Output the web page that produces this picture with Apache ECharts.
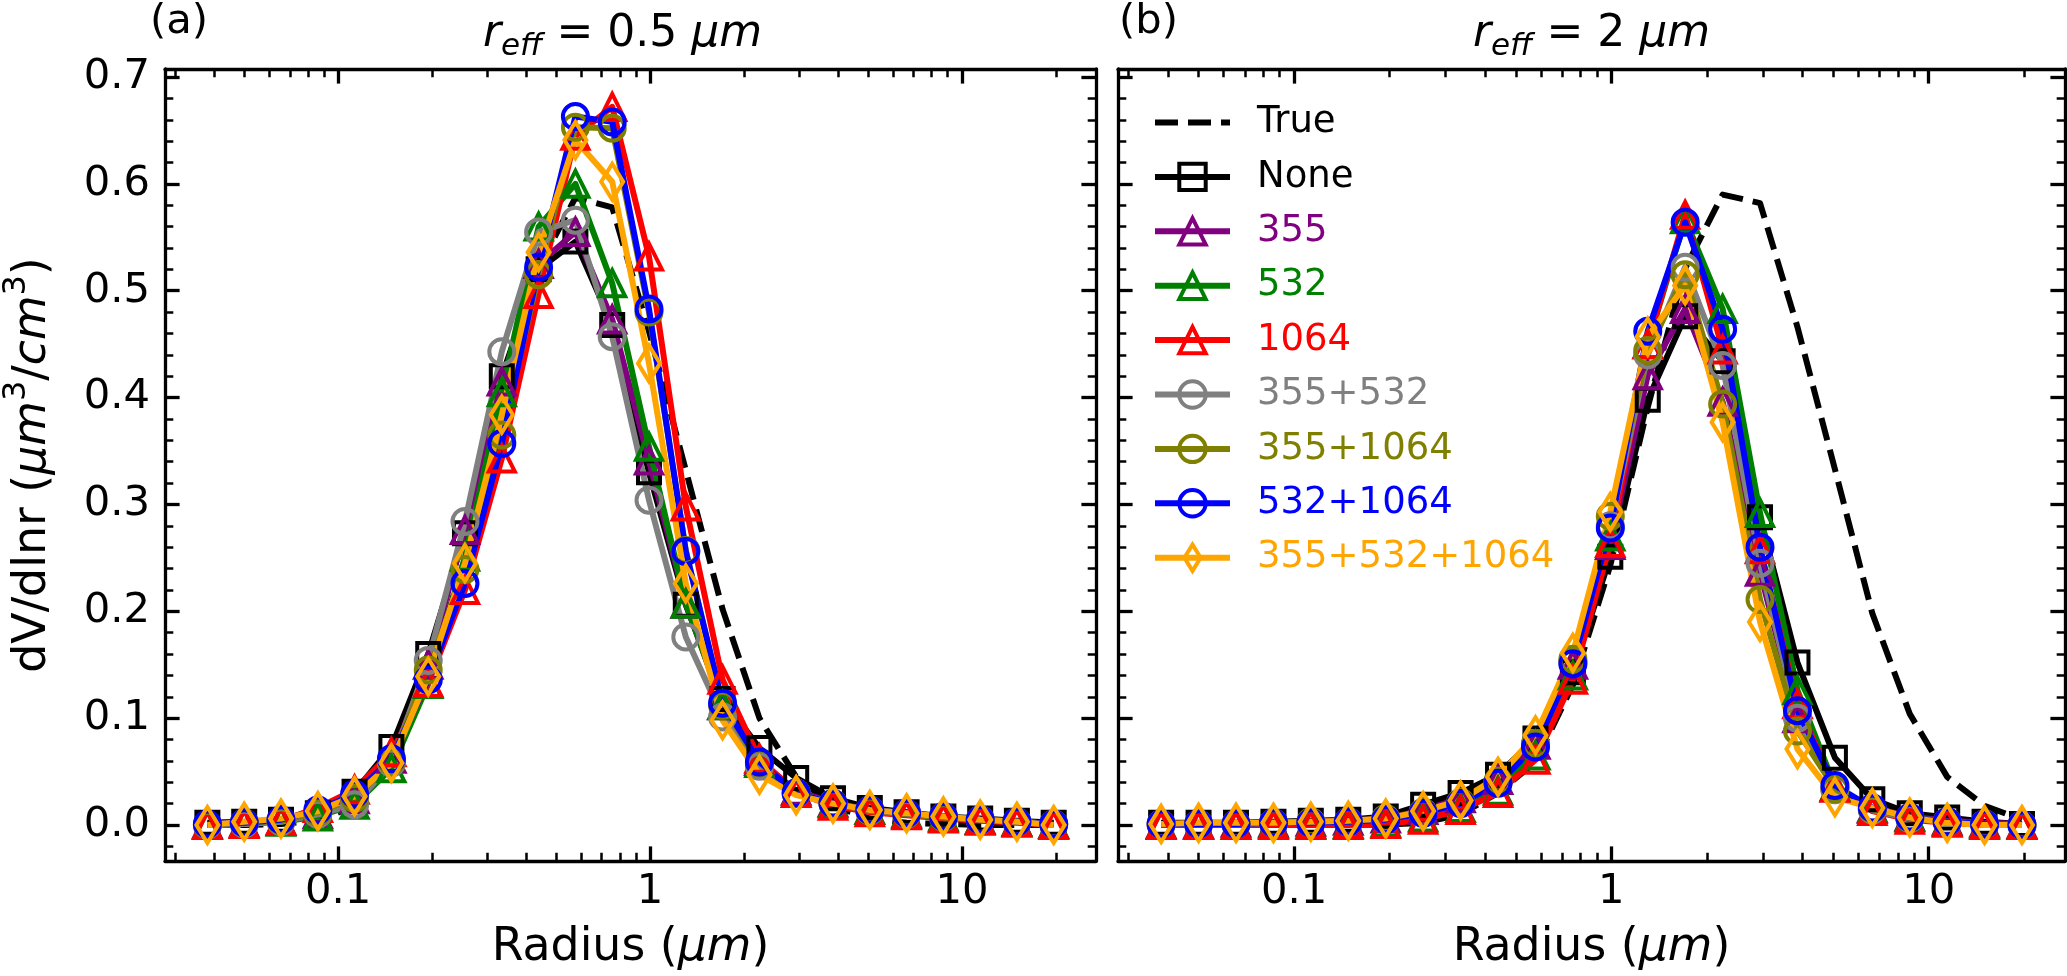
<!DOCTYPE html>
<html><head><meta charset="utf-8">
<script src="https://cdn.jsdelivr.net/npm/echarts@6/dist/echarts.min.js"></script>
<style>html,body{margin:0;padding:0;background:#fff;}#c{width:2067px;height:976px;}</style>
</head><body><div id="c"></div>
<script>
// ---------------- data ----------------
const radius = [0.0381, 0.05, 0.0656, 0.0861, 0.1129, 0.1482, 0.1945, 0.2551, 0.3348, 0.4393, 0.5764, 0.7563,
                0.9923, 1.302, 1.708, 2.242, 2.941, 3.859, 5.064, 6.644, 8.718, 11.44, 15.0, 19.68];
const seriesNames = ['True', 'None', '355', '532', '1064', '355+532', '355+1064', '532+1064', '355+532+1064'];

// panel (a) r_eff = 0.5
const trueA     = [0, 0, 0.001, 0.004, 0.018, 0.058, 0.137, 0.250, 0.392, 0.522, 0.587, 0.578, 0.462, 0.332, 0.202, 0.100, 0.045, 0.018, 0.006, 0.002, 0.001, 0, 0, 0];
const noneA     = [0.002, 0.003, 0.005, 0.011, 0.031, 0.073, 0.160, 0.273, 0.420, 0.520, 0.546, 0.468, 0.330, 0.206, 0.118, 0.072, 0.044, 0.025, 0.016, 0.012, 0.008, 0.006, 0.004, 0.002];
const s355A     = [0.001, 0.002, 0.004, 0.010, 0.024, 0.062, 0.150, 0.276, 0.415, 0.525, 0.555, 0.473, 0.341, 0.207, 0.112, 0.060, 0.032, 0.021, 0.014, 0.010, 0.007, 0.005, 0.003, 0.001];
const s532A     = [0.000, 0.001, 0.003, 0.008, 0.019, 0.053, 0.132, 0.251, 0.405, 0.560, 0.600, 0.507, 0.354, 0.207, 0.112, 0.058, 0.030, 0.020, 0.014, 0.011, 0.008, 0.005, 0.003, 0.001];
const s1064A    = [0.000, 0.001, 0.004, 0.016, 0.033, 0.068, 0.133, 0.220, 0.343, 0.497, 0.645, 0.672, 0.532, 0.298, 0.136, 0.062, 0.030, 0.018, 0.012, 0.009, 0.006, 0.004, 0.002, 0.000];
const s355_532A = [0.000, 0.001, 0.003, 0.010, 0.019, 0.058, 0.154, 0.284, 0.443, 0.555, 0.566, 0.457, 0.304, 0.176, 0.101, 0.055, 0.030, 0.020, 0.014, 0.011, 0.008, 0.005, 0.003, 0.001];
const s355_1064A= [0.000, 0.002, 0.004, 0.012, 0.025, 0.060, 0.145, 0.239, 0.365, 0.515, 0.653, 0.652, 0.480, 0.257, 0.112, 0.058, 0.030, 0.020, 0.013, 0.010, 0.007, 0.005, 0.003, 0.001];
const s532_1064A= [0.001, 0.002, 0.005, 0.014, 0.029, 0.062, 0.136, 0.226, 0.357, 0.522, 0.663, 0.658, 0.483, 0.256, 0.114, 0.059, 0.030, 0.020, 0.014, 0.011, 0.008, 0.005, 0.003, 0.001];
const sAllA     = [0.000, 0.003, 0.006, 0.013, 0.027, 0.058, 0.139, 0.245, 0.384, 0.536, 0.641, 0.602, 0.432, 0.226, 0.098, 0.047, 0.028, 0.020, 0.014, 0.011, 0.008, 0.005, 0.003, 0.000];

// panel (b) r_eff = 2
const trueB     = [0, 0, 0, 0, 0, 0, 0.0005, 0.002, 0.010, 0.030, 0.059, 0.131, 0.243, 0.391, 0.521, 0.590, 0.582, 0.466, 0.333, 0.198, 0.104, 0.045, 0.018, 0.005];
const noneB     = [0.002, 0.002, 0.002, 0.003, 0.004, 0.005, 0.008, 0.019, 0.030, 0.047, 0.081, 0.143, 0.251, 0.398, 0.476, 0.434, 0.288, 0.152, 0.063, 0.024, 0.011, 0.007, 0.003, 0.001];
const s355B     = [0.001, 0.001, 0.002, 0.002, 0.003, 0.004, 0.006, 0.014, 0.025, 0.042, 0.075, 0.150, 0.262, 0.421, 0.483, 0.396, 0.237, 0.100, 0.035, 0.016, 0.008, 0.004, 0.002, 0.001];
const s532B     = [0, 0, 0, 0.001, 0.001, 0.001, 0.002, 0.007, 0.016, 0.032, 0.065, 0.140, 0.270, 0.450, 0.567, 0.483, 0.292, 0.126, 0.036, 0.015, 0.007, 0.003, 0.001, 0];
const s1064B    = [0, 0, 0, 0, 0, 0, 0.001, 0.005, 0.014, 0.030, 0.061, 0.136, 0.264, 0.450, 0.571, 0.445, 0.258, 0.113, 0.035, 0.013, 0.005, 0.002, 0, 0];
const s355_532B = [0.001, 0.001, 0.001, 0.002, 0.002, 0.003, 0.005, 0.011, 0.020, 0.040, 0.075, 0.152, 0.280, 0.440, 0.522, 0.430, 0.245, 0.100, 0.033, 0.014, 0.006, 0.003, 0.001, 0];
const s355_1064B= [0.001, 0.001, 0.001, 0.002, 0.003, 0.003, 0.006, 0.012, 0.021, 0.041, 0.076, 0.155, 0.289, 0.444, 0.515, 0.394, 0.211, 0.088, 0.034, 0.015, 0.007, 0.003, 0.001, 0];
const s532_1064B= [0.001, 0.001, 0.001, 0.002, 0.002, 0.003, 0.005, 0.011, 0.020, 0.039, 0.073, 0.151, 0.278, 0.462, 0.564, 0.464, 0.260, 0.107, 0.037, 0.016, 0.007, 0.003, 0.001, 0];
const sAllB     = [0.001, 0.002, 0.002, 0.002, 0.003, 0.004, 0.006, 0.013, 0.023, 0.045, 0.084, 0.161, 0.293, 0.457, 0.505, 0.377, 0.190, 0.071, 0.026, 0.016, 0.007, 0.002, 0, 0];

const panelA = [trueA, noneA, s355A, s532A, s1064A, s355_532A, s355_1064A, s532_1064A, sAllA];
const panelB = [trueB, noneB, s355B, s532B, s1064B, s355_532B, s355_1064B, s532_1064B, sAllB];

const xTickValues = [0.1, 1, 10];
const xTickLabels = ['0.1', '1', '10'];
const xMinorValues = [0.03,0.04,0.05,0.06,0.07,0.08,0.09,0.2,0.3,0.4,0.5,0.6,0.7,0.8,0.9,2,3,4,5,6,7,8,9,20];
const yTickValues = [0.0, 0.1, 0.2, 0.3, 0.4, 0.5, 0.6, 0.7];
const yTickLabels = ['0.0', '0.1', '0.2', '0.3', '0.4', '0.5', '0.6', '0.7'];
const yMinorValues = [-0.02,0.02,0.04,0.06,0.08,0.12,0.14,0.16,0.18,0.22,0.24,0.26,0.28,0.32,0.34,0.36,0.38,
                      0.42,0.44,0.46,0.48,0.52,0.54,0.56,0.58,0.62,0.64,0.66,0.68];
const titleValues = ['0.5', '2'];
const panelLabels = ['(a)', '(b)'];

// ---------------- style ----------------
const X_MIN = 0.027864, X_MAX = 26.894;
const Y_MIN = -0.0337, Y_MAX = 0.7075;
const LMIN = Math.log10(X_MIN), LMAX = Math.log10(X_MAX);
const FONT = 'DejaVu Sans';
// thin diamond with a square bounding box so the legend keeps it narrow
const THIN_DIAMOND = 'path://M0,-18L11,0L0,18L-11,0Z M-18,-18Z M18,18Z';
const styles = [
  {color: '#000000', symbol: 'none', dash: [23, 10]},
  {color: '#000000', symbol: 'rect', size: 22},
  {color: '#800080', symbol: 'triangle', size: 26},
  {color: '#008000', symbol: 'triangle', size: 26},
  {color: '#ff0000', symbol: 'triangle', size: 26},
  {color: '#808080', symbol: 'circle', size: 25},
  {color: '#808000', symbol: 'circle', size: 25},
  {color: '#0000ff', symbol: 'circle', size: 25},
  {color: '#ffa500', symbol: THIN_DIAMOND, size: 36}
];
const grids = [
  {left: 149, top: 69, width: 947, height: 792},
  {left: 1118, top: 69, width: 947, height: 792}
];
const SPINE = 3.3, MAJ_LEN = 14.6, MIN_LEN = 8.3;

const xAxes = [], yAxes = [];
grids.forEach((g, gi) => {
  xAxes.push({type: 'log', logBase: 10, gridIndex: gi, min: X_MIN, max: X_MAX, show: false});
  xAxes.push({type: 'value', gridIndex: gi, min: LMIN, max: LMAX, position: 'bottom',
    axisLine: {show: true, onZero: false, lineStyle: {color: '#000', width: SPINE}},
    axisTick: {show: true, inside: true, length: MAJ_LEN, lineStyle: {color: '#000', width: SPINE},
               customValues: xTickValues.map(Math.log10)},
    axisLabel: {show: true, customValues: xTickValues.map(Math.log10), margin: 10,
      color: '#000', fontSize: 41.7, fontFamily: FONT,
      formatter: v => { const k = xTickValues.findIndex(t => Math.abs(Math.log10(t) - v) < 1e-6); return k >= 0 ? xTickLabels[k] : ''; }},
    splitLine: {show: false},
    name: '{n|Radius (}{i|μm}{n|)}', nameLocation: 'middle', nameGap: 62,
    nameTextStyle: {rich: {
      n: {fontSize: 45.8, fontFamily: FONT, color: '#000', lineHeight: 50},
      i: {fontSize: 45.8, fontFamily: FONT, fontStyle: 'italic', color: '#000', lineHeight: 50}}}
  });
  xAxes.push({type: 'value', gridIndex: gi, min: LMIN, max: LMAX, position: 'bottom',
    axisLine: {show: false, onZero: false},
    axisTick: {show: true, inside: true, length: MIN_LEN, lineStyle: {color: '#000', width: 2.5},
               customValues: xMinorValues.map(Math.log10)},
    axisLabel: {show: false}, splitLine: {show: false}});
  xAxes.push({type: 'value', gridIndex: gi, min: LMIN, max: LMAX, position: 'top',
    axisLine: {show: true, onZero: false, lineStyle: {color: '#000', width: SPINE}},
    axisTick: {show: true, inside: true, length: MAJ_LEN, lineStyle: {color: '#000', width: SPINE},
               customValues: xTickValues.map(Math.log10)},
    axisLabel: {show: false}, splitLine: {show: false}});
  xAxes.push({type: 'value', gridIndex: gi, min: LMIN, max: LMAX, position: 'top',
    axisLine: {show: false, onZero: false},
    axisTick: {show: true, inside: true, length: MIN_LEN, lineStyle: {color: '#000', width: 2.5},
               customValues: xMinorValues.map(Math.log10)},
    axisLabel: {show: false}, splitLine: {show: false}});

  const yData = {type: 'value', gridIndex: gi, min: Y_MIN, max: Y_MAX, position: 'left',
    axisLine: {show: true, onZero: false, lineStyle: {color: '#000', width: SPINE}},
    axisTick: {show: true, inside: true, length: MAJ_LEN, lineStyle: {color: '#000', width: SPINE},
               customValues: yTickValues},
    axisLabel: {show: gi === 0, customValues: yTickValues, margin: 15, color: '#000', fontSize: 41.7, fontFamily: FONT,
      formatter: v => { const k = yTickValues.findIndex(t => Math.abs(t - v) < 1e-6); return k >= 0 ? yTickLabels[k] : ''; }},
    splitLine: {show: false}};
  if (gi === 0) {
    Object.assign(yData, {
      name: '{n|dV/dlnr (}{i|μm}{s|3}{n|/}{i|cm}{s|3}{n|)}', nameLocation: 'middle', nameGap: 100,
      nameTextStyle: {rich: {
        n: {fontSize: 45.8, fontFamily: FONT, color: '#000', lineHeight: 64},
        i: {fontSize: 45.8, fontFamily: FONT, fontStyle: 'italic', color: '#000', lineHeight: 64},
        s: {fontSize: 32, fontFamily: FONT, color: '#000', lineHeight: 32, verticalAlign: 'top'}}}
    });
  }
  yAxes.push(yData);
  yAxes.push({type: 'value', gridIndex: gi, min: Y_MIN, max: Y_MAX, position: 'left',
    axisLine: {show: false, onZero: false},
    axisTick: {show: true, inside: true, length: MIN_LEN, lineStyle: {color: '#000', width: 2.5}, customValues: yMinorValues},
    axisLabel: {show: false}, splitLine: {show: false}});
  yAxes.push({type: 'value', gridIndex: gi, min: Y_MIN, max: Y_MAX, position: 'right',
    axisLine: {show: true, onZero: false, lineStyle: {color: '#000', width: SPINE}},
    axisTick: {show: true, inside: true, length: MAJ_LEN, lineStyle: {color: '#000', width: SPINE}, customValues: yTickValues},
    axisLabel: {show: false}, splitLine: {show: false}});
  yAxes.push({type: 'value', gridIndex: gi, min: Y_MIN, max: Y_MAX, position: 'right',
    axisLine: {show: false, onZero: false},
    axisTick: {show: true, inside: true, length: MIN_LEN, lineStyle: {color: '#000', width: 2.5}, customValues: yMinorValues},
    axisLabel: {show: false}, splitLine: {show: false}});
});

function mkSeries(gi, idx, vals) {
  const st = styles[idx];
  const noSym = st.symbol === 'none';
  return {
    type: 'line', name: seriesNames[idx], xAxisIndex: gi * 5, yAxisIndex: gi * 4,
    data: radius.map((r, i) => [r, vals[i]]),
    symbol: noSym ? 'circle' : st.symbol, showSymbol: !noSym, symbolSize: noSym ? 1 : st.size,
    lineStyle: {color: st.color, width: 6, type: st.dash || 'solid', join: 'round'},
    itemStyle: noSym ? {color: 'transparent', borderColor: 'transparent', borderWidth: 0}
                     : {color: 'transparent', borderColor: st.color, borderWidth: 4},
    emphasis: {disabled: true}, silent: true, animation: false
  };
}
const series = [];
panelA.forEach((v, i) => series.push(mkSeries(0, i, v)));
panelB.forEach((v, i) => series.push(mkSeries(1, i, v)));

const titleRich = {
  i: {fontSize: 44, fontFamily: FONT, fontStyle: 'italic', color: '#000', lineHeight: 54},
  n: {fontSize: 44, fontFamily: FONT, color: '#000', lineHeight: 54},
  sub: {fontSize: 31, fontFamily: FONT, fontStyle: 'italic', color: '#000', lineHeight: 31, verticalAlign: 'bottom'}
};
const titleText = v => '{i|r}{sub|eff}{n| = ' + v + ' }{i|μm}';
const centers = grids.map(g => g.left + g.width / 2);

const option = {
  backgroundColor: '#fff',
  animation: false,
  grid: grids,
  xAxis: xAxes,
  yAxis: yAxes,
  series: series,
  legend: {
    orient: 'vertical', left: 1152, top: 104, padding: 0,
    itemWidth: 75, itemHeight: 33, itemGap: 17.4, selectedMode: false,
    textStyle: {fontSize: 37, fontFamily: FONT, padding: [0, 0, 0, 22]},
    lineStyle: {width: 6},
    itemStyle: {color: 'transparent', borderWidth: 4},
    data: seriesNames.map((n, i) => {
      const d = {name: n, textStyle: {color: styles[i].color}};
      if (styles[i].symbol === 'none') d.itemStyle = {borderColor: 'transparent', borderWidth: 0, color: 'transparent'};
      return d;
    })
  },
  graphic: [
    {type: 'text', x: centers[0], y: 35, silent: true,
     style: {text: titleText(titleValues[0]), rich: titleRich, align: 'center', verticalAlign: 'middle'}},
    {type: 'text', x: centers[1], y: 35, silent: true,
     style: {text: titleText(titleValues[1]), rich: titleRich, align: 'center', verticalAlign: 'middle'}},
    {type: 'text', x: grids[0].left + 1, y: 22, silent: true,
     style: {text: panelLabels[0], fontSize: 41.7, fontFamily: FONT, fill: '#000', align: 'left', verticalAlign: 'middle'}},
    {type: 'text', x: grids[1].left + 1, y: 22, silent: true,
     style: {text: panelLabels[1], fontSize: 41.7, fontFamily: FONT, fill: '#000', align: 'left', verticalAlign: 'middle'}}
  ]
};
const chart = echarts.init(document.getElementById('c'), null, {renderer: 'canvas'});
chart.setOption(option);
</script>
</body></html>
